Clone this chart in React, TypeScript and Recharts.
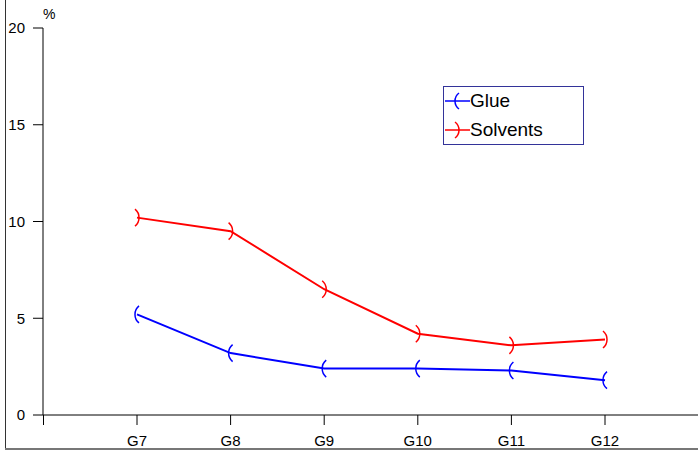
import React from 'react';
import { LineChart, Line, XAxis, YAxis } from 'recharts';

const categories = ['G7', 'G8', 'G9', 'G10', 'G11', 'G12'];
const glue = [5.2, 3.2, 2.4, 2.4, 2.3, 1.8];
const solvents = [10.2, 9.5, 6.5, 4.2, 3.6, 3.9];
const yTicks = [0, 5, 10, 15, 20];

const data = categories.map((c, i) => ({ name: c, Glue: glue[i], Solvents: solvents[i] }));

const FONT = '"Liberation Sans", Arial, sans-serif';

const RightArc = (props: any) => {
  const { cx, cy, stroke } = props;
  if (cx == null || cy == null) return null;
  return (
    <path
      d={`M ${cx - 2} ${cy - 8.5} A 11 11 0 0 1 ${cx - 2} ${cy + 8.5}`}
      fill="none"
      stroke={stroke}
      strokeWidth={1.5}
    />
  );
};

const LeftArc = (props: any) => {
  const { cx, cy, stroke } = props;
  if (cx == null || cy == null) return null;
  return (
    <path
      d={`M ${cx + 2} ${cy - 8.5} A 11 11 0 0 0 ${cx + 2} ${cy + 8.5}`}
      fill="none"
      stroke={stroke}
      strokeWidth={1.5}
    />
  );
};

const legendItems = [
  { name: 'Glue', color: '#0000ff', left: true },
  { name: 'Solvents', color: '#ff0000', left: false },
];

const LegendBox = () => (
  <div
    style={{
      position: 'absolute',
      left: 443,
      top: 86,
      width: 139,
      height: 57,
      border: '1px solid #333399',
      background: '#fff',
      fontFamily: FONT,
      fontSize: 19,
      color: '#000',
    }}
  >
    {legendItems.map((it) => (
      <div key={it.name} style={{ display: 'flex', alignItems: 'center', height: 28.5 }}>
        <svg width={25} height={20} style={{ marginLeft: 1 }}>
          <line x1={0} y1={10} x2={25} y2={10} stroke={it.color} strokeWidth={1.5} />
          {it.left ? (
            <path d="M 14 2 A 10 10 0 0 0 14 18" fill="none" stroke={it.color} strokeWidth={1.5} />
          ) : (
            <path d="M 10 2 A 10 10 0 0 1 10 18" fill="none" stroke={it.color} strokeWidth={1.5} />
          )}
        </svg>
        <span>{it.name}</span>
      </div>
    ))}
  </div>
);

export default function App() {
  return (
    <div style={{ position: 'absolute', left: 0, top: 0, width: 698, height: 452, background: '#fff' }}>
      <div style={{ position: 'absolute', left: 5, top: 0, width: 1, height: 450, background: '#333' }} />
      <div style={{ position: 'absolute', left: 5, top: 448, width: 693, height: 2, background: '#777' }} />
      <div style={{ position: 'absolute', left: 42.5, top: 415, width: 1, height: 10, background: '#000' }} />
      <LineChart
        width={698}
        height={452}
        data={data}
        margin={{ top: 28, right: 0, left: 0, bottom: 0 }}
        style={{ fontFamily: FONT, position: 'absolute', left: 0, top: 0 }}
      >
        <XAxis
          dataKey="name"
          height={37}
          padding={{ left: 94, right: 93 }}
          tickSize={10}
          tickMargin={10}
          tick={{ fill: '#000', fontSize: 15, fontFamily: FONT }}
          axisLine={{ stroke: '#000' }}
          tickLine={{ stroke: '#000' }}
          interval={0}
        />
        <YAxis
          width={43}
          domain={[0, 20]}
          ticks={yTicks}
          tickSize={10}
          tickMargin={8}
          tick={{ fill: '#000', fontSize: 15, fontFamily: FONT }}
          axisLine={{ stroke: '#000' }}
          tickLine={{ stroke: '#000' }}
          label={{
            content: () => (
              <text x={43} y={19} fontSize={14} fontFamily={FONT} fill="#000">
                %
              </text>
            ),
          }}
        />
        <Line
          dataKey="Glue"
          stroke="#0000ff"
          strokeWidth={2}
          dot={<LeftArc />}
          activeDot={false}
          isAnimationActive={false}
        />
        <Line
          dataKey="Solvents"
          stroke="#ff0000"
          strokeWidth={2}
          dot={<RightArc />}
          activeDot={false}
          isAnimationActive={false}
        />
      </LineChart>
      <LegendBox />
    </div>
  );
}
